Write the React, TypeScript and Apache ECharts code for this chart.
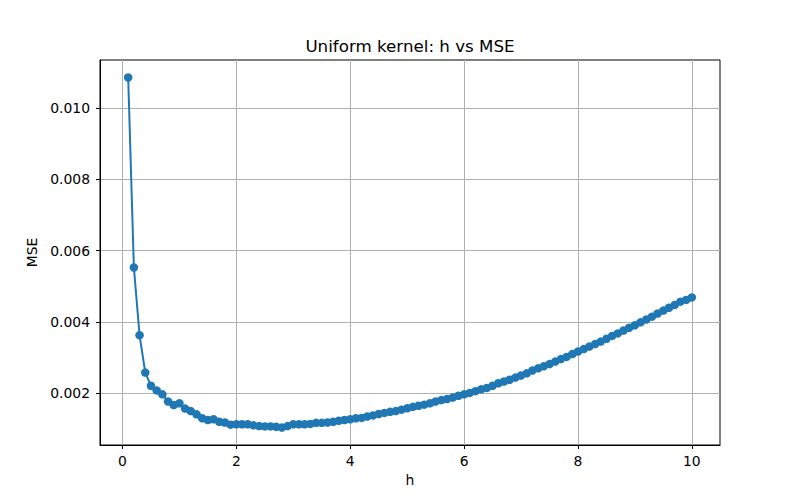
import React, { useEffect, useRef } from "react";
import * as echarts from "echarts";

const hValues: number[] = Array.from({ length: 100 }, (_, i) => Number(((i + 1) / 10).toFixed(1)));

const mseValues: number[] = [
  0.01086, 0.00553, 0.00363, 0.00258, 0.00221, 0.00208, 0.00197, 0.00177, 0.00167, 0.00172,
  0.00157, 0.0015, 0.00141, 0.0013, 0.00125, 0.00127, 0.0012, 0.00118, 0.00112, 0.00113,
  0.00113, 0.00113, 0.0011, 0.00108, 0.00107, 0.00107, 0.00106, 0.00104, 0.00108, 0.00113,
  0.00113, 0.00113, 0.00114, 0.00117, 0.00117, 0.00118, 0.0012, 0.00123, 0.00125, 0.00127,
  0.0013, 0.00131, 0.00135, 0.00138, 0.00142, 0.00145, 0.00148, 0.0015, 0.00154, 0.00158,
  0.00162, 0.00165, 0.00168, 0.00172, 0.00177, 0.00181, 0.00184, 0.00188, 0.00193, 0.00197,
  0.00201, 0.00206, 0.00211, 0.00215, 0.00221, 0.00228, 0.00233, 0.00238, 0.00244, 0.0025,
  0.00256, 0.00264, 0.0027, 0.00276, 0.00282, 0.00289, 0.00296, 0.00302, 0.0031, 0.00317,
  0.00324, 0.00331, 0.00338, 0.00345, 0.00353, 0.00361, 0.00368, 0.00376, 0.00384, 0.00391,
  0.00399, 0.00407, 0.00415, 0.00424, 0.00432, 0.0044, 0.00448, 0.00457, 0.00462, 0.00469,
];

const xTicks: number[] = [0, 2, 4, 6, 8, 10];
const yTicks: number[] = [0.002, 0.004, 0.006, 0.008, 0.01];

const titleText = "Uniform kernel: h vs MSE";
const xName = "h";
const yName = "MSE";

const FONT = "DejaVu Sans";

export default function App() {
  const ref = useRef<HTMLDivElement>(null);
  useEffect(() => {
    if (!ref.current) return;
    const chart = echarts.init(ref.current, undefined, { renderer: "svg" });
    const data = hValues.map((h, i) => [h, mseValues[i]]);
    const xMin = 0.1 - 0.05 * 9.9;
    const xMax = 10 + 0.05 * 9.9;
    const yLo = Math.min(...mseValues);
    const yHi = Math.max(...mseValues);
    const yR = yHi - yLo;
    chart.setOption({
      animation: false,
      backgroundColor: "#ffffff",
      textStyle: { fontFamily: FONT },
      graphic: [
        {
          type: "text",
          x: 410,
          y: 46,
          style: {
            text: titleText,
            textAlign: "center",
            textVerticalAlign: "middle",
            fontFamily: FONT,
            fontSize: 16.7,
            fill: "#000",
          },
        },
      ],
      grid: {
        left: 100,
        right: 80,
        top: 60,
        bottom: 55,
        show: true,
        borderColor: "#000",
        borderWidth: 1,
        backgroundColor: "transparent",
      },
      xAxis: {
        type: "value",
        min: xMin,
        max: xMax,
        name: xName,
        nameLocation: "middle",
        nameGap: 27,
        nameTextStyle: { fontFamily: FONT, fontSize: 13.9, color: "#000" },
        axisLine: { show: true, onZero: false, lineStyle: { color: "#000", width: 1 } },
        axisTick: { show: true, length: 4, customValues: xTicks, lineStyle: { color: "#000", width: 1 } },
        axisLabel: {
          customValues: xTicks,
          formatter: (v: number) => String(Math.round(v)),
          fontFamily: FONT,
          fontSize: 13.9,
          color: "#000",
          margin: 9,
        },
        splitLine: { show: true, lineStyle: { color: "#b0b0b0", width: 1 } },
      },
      yAxis: {
        type: "value",
        min: yLo - 0.05 * yR,
        max: yHi + 0.05 * yR,
        name: yName,
        nameLocation: "middle",
        nameGap: 57,
        nameTextStyle: { fontFamily: FONT, fontSize: 13.9, color: "#000" },
        axisLine: { show: true, onZero: false, lineStyle: { color: "#000", width: 1 } },
        axisTick: { show: true, length: 4, customValues: yTicks, lineStyle: { color: "#000", width: 1 } },
        axisLabel: {
          customValues: yTicks,
          formatter: (v: number) => v.toFixed(3),
          fontFamily: FONT,
          fontSize: 13.9,
          color: "#000",
          margin: 10,
        },
        splitLine: { show: true, lineStyle: { color: "#b0b0b0", width: 1 } },
      },
      series: [
        {
          type: "line",
          data,
          symbol: "circle",
          symbolSize: 8.5,
          showSymbol: true,
          itemStyle: { color: "#1f77b4" },
          lineStyle: { color: "#1f77b4", width: 2 },
          z: 3,
        },
      ],
    });
    return () => chart.dispose();
  }, []);
  return <div ref={ref} style={{ position: "fixed", left: 0, top: 0, width: 800, height: 500 }} />;
}
